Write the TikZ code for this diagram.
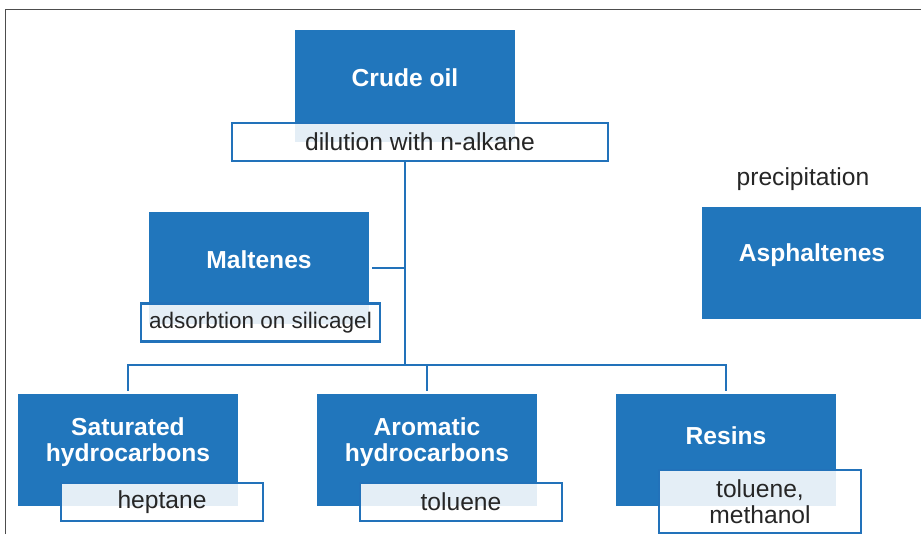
\documentclass[tikz,border=0pt]{standalone}
\usepackage{fontspec}
\setmainfont{Liberation Sans}
\definecolor{boxblue}{HTML}{2176BC}
\definecolor{lineblue}{HTML}{2272BA}
\definecolor{framegray}{HTML}{4D4D4D}
\tikzset{
	blockbox/.style={fill=boxblue,minimum width=5.5cm,minimum height=2.8cm,inner sep=0pt},
	blocktext/.style={text=white,font=\fontsize{17.5}{18.6}\selectfont\bfseries,align=center},
	stepnote/.style={draw=lineblue,line width=1.9pt,fill=white,fill opacity=.88,text opacity=1,
		text=black!85,minimum height=.95cm,inner sep=0pt,font=\fontsize{17.5}{18.6}\selectfont,align=center},
	link/.style={draw=lineblue,line width=1.8pt},
}
\begin{document}
\begin{tikzpicture}[x=0.025cm,y=-0.025cm]
	\useasboundingbox (0,0) rectangle (921,534);
	\draw[framegray,line width=1.4pt] (5.5,534) -- (5.5,9.5) -- (921,9.5);
	% fractions
	\node[blockbox,label={[blocktext,yshift=5.7pt]center:Crude oil}] (crude) at (405,86) {};
	\node[blockbox,label={[blocktext,yshift=5.7pt]center:Maltenes}] (malt) at (259,268) {};
	\node[blockbox,label={[blocktext,yshift=5.7pt]center:Asphaltenes}] (asph) at (812,263) {};
	\node[blockbox,label={[blocktext,yshift=5.7pt]center:Saturated\\hydrocarbons}] (sat) at (128,450) {};
	\node[blockbox,label={[blocktext,yshift=5.7pt]center:Aromatic\\hydrocarbons}] (arom) at (427,450) {};
	\node[blockbox,label={[blocktext,yshift=10pt]center:Resins}] (res) at (726,450) {};
	\node[text=black!85,font=\fontsize{17.5}{18.6}\selectfont] (prec) at (803,179) {precipitation};
	% connectors
	\coordinate (bus) at (405,365);
	\draw[link] (crude.south |- 0,161) -- (bus);
	\draw[link,shorten <=2pt] (malt.east) -- (malt.east -| bus);
	\draw[link,shorten <=2pt,shorten >=2pt] (sat.north) |- (bus) -| (res.north);
	\draw[link,shorten <=2pt] (arom.north) -- (arom.north |- bus);
	% steps
	\node[stepnote,minimum width=9.4cm] (dil) at (420,142) {dilution with n-alkane};
	\node[stepnote,minimum width=5.98cm,font=\fontsize{16}{18.6}\selectfont] (ads) at (260.5,322.5) {adsorbtion on silicagel};
	\node[stepnote,minimum width=5.05cm] (hep) at (162,502) {heptane};
	\node[stepnote,minimum width=5.05cm] (tol) at (461,502) {toluene};
	\node[stepnote,minimum width=5.05cm,minimum height=1.58cm] (tolme) at (760,501.5) {toluene,\\methanol};
\end{tikzpicture}
\end{document}
